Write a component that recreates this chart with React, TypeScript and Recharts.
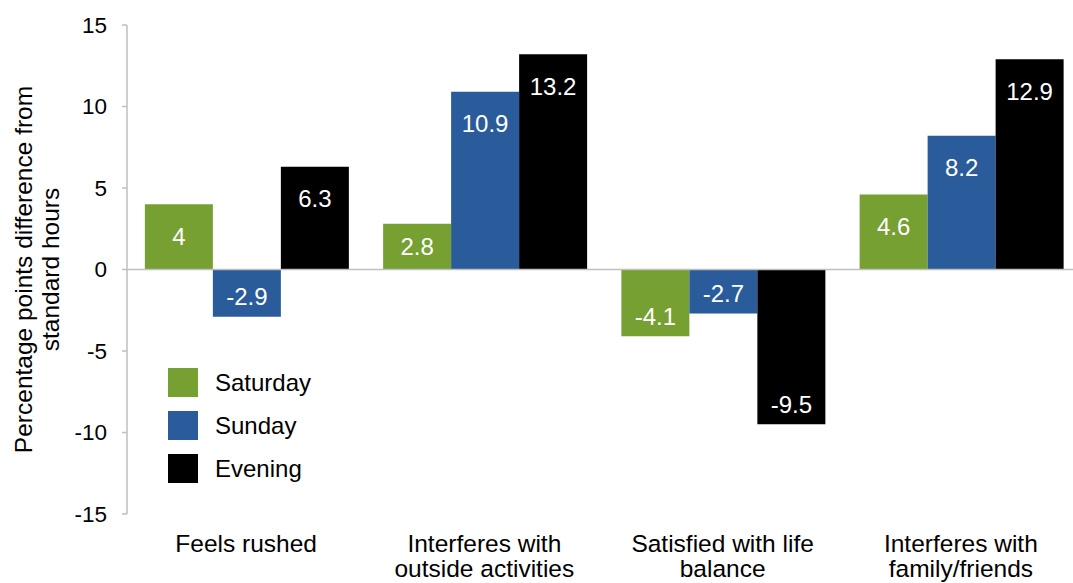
import { BarChart, Bar, XAxis, YAxis, Legend, ReferenceLine, LabelList } from "recharts";

const CATEGORIES = [
  "Feels rushed",
  "Interferes with outside activities",
  "Satisfied with life balance",
  "Interferes with family/friends",
];
const CATEGORY_LINES = [
  ["Feels rushed"],
  ["Interferes with", "outside activities"],
  ["Satisfied with life", "balance"],
  ["Interferes with", "family/friends"],
];
const SATURDAY = [4, 2.8, -4.1, 4.6];
const SUNDAY = [-2.9, 10.9, -2.7, 8.2];
const EVENING = [6.3, 13.2, -9.5, 12.9];
const Y_TICKS = [-15, -10, -5, 0, 5, 10, 15];
const Y_TITLE = ["Percentage points difference from", "standard hours"];

const SERIES = [
  { key: "saturday", name: "Saturday", fill: "#77a033" },
  { key: "sunday", name: "Sunday", fill: "#2a5b9a" },
  { key: "evening", name: "Evening", fill: "#000000" },
];

const data = CATEGORIES.map((c, i) => ({
  category: c,
  saturday: SATURDAY[i],
  sunday: SUNDAY[i],
  evening: EVENING[i],
}));

const FONT = "'Liberation Sans', Arial, sans-serif";
const AXIS_GRAY = "#bfbfbf";

const BarValue = (props: any) => {
  const { x, y, width, height, value } = props;
  const top = Math.min(y, y + height);
  const bottom = Math.max(y, y + height);
  const h = bottom - top;
  const cy = value >= 0 ? top + Math.min(32, h / 2) : bottom - Math.min(20, h / 2);
  return (
    <text
      x={x + width / 2}
      y={cy}
      fill="#fff"
      fontSize={24}
      fontFamily={FONT}
      textAnchor="middle"
      dominantBaseline="central"
    >
      {value}
    </text>
  );
};

const CategoryTick = (props: any) => {
  const { x, y, index } = props;
  const lines = CATEGORY_LINES[index] || [];
  return (
    <g>
      {lines.map((l, i) => (
        <text
          key={i}
          x={x}
          y={y + 29 + i * 25}
          fill="#000"
          fontSize={24.5}
          fontFamily={FONT}
          textAnchor="middle"
          dominantBaseline="central"
        >
          {l}
        </text>
      ))}
    </g>
  );
};

const YTitle = (props: any) => {
  const { viewBox } = props;
  const cy = viewBox.y + viewBox.height / 2;
  return (
    <g>
      {Y_TITLE.map((l, i) => (
        <text
          key={i}
          x={23 + i * 27}
          y={cy}
          transform={`rotate(-90, ${23 + i * 27}, ${cy})`}
          fill="#000"
          fontSize={24.5}
          fontFamily={FONT}
          textAnchor="middle"
          dominantBaseline="central"
        >
          {l}
        </text>
      ))}
    </g>
  );
};

const LegendBox = () => (
  <div style={{ fontFamily: FONT, fontSize: 24, color: "#000" }}>
    {SERIES.map((s) => (
      <div key={s.key} style={{ display: "flex", alignItems: "center", height: 43 }}>
        <div style={{ width: 30, height: 29, background: s.fill }} />
        <span style={{ marginLeft: 17 }}>{s.name}</span>
      </div>
    ))}
  </div>
);

export default function App() {
  return (
    <div
      style={{
        position: "absolute",
        left: 0,
        top: 0,
        width: 1073,
        height: 583,
        overflow: "hidden",
        background: "#fff",
      }}
    >
      <BarChart
        width={1080}
        height={583}
        data={data}
        margin={{ top: 25, right: 0, bottom: 0, left: 0 }}
        barCategoryGap="7.5%"
        barGap={0}
      >
        <XAxis
          dataKey="category"
          axisLine={false}
          tickLine={false}
          tickSize={0}
          tickMargin={0}
          height={69}
          interval={0}
          tick={<CategoryTick />}
        />
        <YAxis
          domain={[-15, 15]}
          ticks={Y_TICKS}
          width={127}
          axisLine={{ stroke: AXIS_GRAY, strokeWidth: 1.5 }}
          tickLine={{ stroke: AXIS_GRAY, strokeWidth: 1.5 }}
          tickSize={5}
          tickMargin={15}
          tick={{ fill: "#000", fontSize: 22.5, fontFamily: FONT }}
          label={{ content: <YTitle /> }}
        />
        <ReferenceLine y={0} stroke={AXIS_GRAY} strokeWidth={1.5} />
        <Legend
          layout="vertical"
          align="center"
          verticalAlign="middle"
          content={<LegendBox />}
          wrapperStyle={{ left: 168, top: 361, width: "auto" }}
        />
        {SERIES.map((s) => (
          <Bar key={s.key} dataKey={s.key} name={s.name} fill={s.fill} isAnimationActive={false}>
            <LabelList dataKey={s.key} content={<BarValue />} />
          </Bar>
        ))}
      </BarChart>
    </div>
  );
}
